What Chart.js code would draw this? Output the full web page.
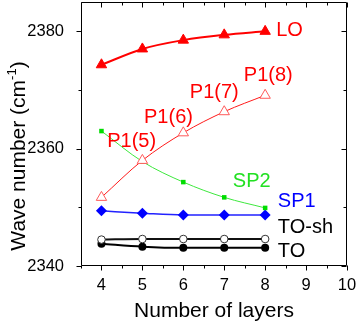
<!DOCTYPE html>
<html><head><meta charset="utf-8">
<script src="https://cdn.jsdelivr.net/npm/chart.js@4/dist/chart.umd.min.js"></script>
<style>html,body{margin:0;padding:0;background:#fff;overflow:hidden;}</style>
</head><body>
<canvas id="c" width="357" height="327"></canvas>
<script>
// ---- data ----
const layers = [4, 5, 6, 7, 8];
const LO   = [2374.3, 2377.0, 2378.5, 2379.4, 2380.0];
const P1   = [2351.7, 2358.0, 2362.7, 2366.3, 2369.1];
const SP2  = [2363.0, 2357.8, 2354.3, 2351.7, 2349.9];
const SP1  = [2349.4, 2349.0, 2348.7, 2348.7, 2348.7];
const TOsh = [2344.5, 2344.6, 2344.6, 2344.6, 2344.6];
const TO   = [2343.8, 2343.3, 2343.1, 2343.1, 2343.1];
const xTicks = [4, 5, 6, 7, 8, 9, 10];
const yTicks = [2340, 2360, 2380];
const xMinor = [3.5, 4.5, 5.5, 6.5, 7.5, 8.5, 9.5];
const yMinor = [2350, 2370];
const xTitle = 'Number of layers';
const yTitleMain = 'Wave number (cm';
const yTitleSup = '-1';
const yTitleEnd = ')';

const FAM = '"Liberation Sans", Arial, Helvetica, sans-serif';
const pts = arr => layers.map((x, i) => ({x: x, y: arr[i]}));

// text labels placed in data coordinates
const notes = [
  {text: 'LO',    x: 8.27, y: 2380.2, color: '#ff0000'},
  {text: 'P1(8)', x: 7.48, y: 2372.4, color: '#ff0000'},
  {text: 'P1(7)', x: 6.16, y: 2369.5, color: '#ff0000'},
  {text: 'P1(6)', x: 5.04, y: 2365.4, color: '#ff0000'},
  {text: 'P1(5)', x: 4.14, y: 2361.2, color: '#ff0000'},
  {text: 'SP2',   x: 7.21, y: 2354.4, color: '#22e022'},
  {text: 'SP1',   x: 8.31, y: 2351.0, color: '#0000ff'},
  {text: 'TO-sh', x: 8.31, y: 2346.5, color: '#000000'},
  {text: 'TO',    x: 8.31, y: 2342.4, color: '#000000'}
];

const framePlugin = {
  id: 'frame',
  afterDraw(chart) {
    const {ctx, chartArea: a, scales: {x, y}} = chart;
    ctx.save();
    ctx.strokeStyle = '#000';
    ctx.lineWidth = 1;
    const L = Math.round(a.left) + 0.5, R = Math.round(a.right) - 0.5;
    const T = Math.round(a.top) + 0.5, B = Math.round(a.bottom) - 0.5;
    ctx.beginPath();
    ctx.rect(L, T, R - L, B - T);
    const tx = (v, len) => {
      const p = Math.round(x.getPixelForValue(v)) + 0.5;
      ctx.moveTo(p, B); ctx.lineTo(p, B + len);
      ctx.moveTo(p, T); ctx.lineTo(p, T + len);
    };
    xTicks.forEach(v => tx(v, 5));
    xMinor.forEach(v => tx(v, 3));
    const ty = (v, len) => {
      const p = Math.round(y.getPixelForValue(v)) + 0.5;
      ctx.moveTo(L, p); ctx.lineTo(L - len, p);
      ctx.moveTo(R, p); ctx.lineTo(R - len, p);
    };
    yTicks.forEach(v => ty(v, 5));
    yMinor.forEach(v => ty(v, 3));
    ctx.stroke();

    ctx.font = '20px ' + FAM;
    ctx.textAlign = 'left';
    ctx.textBaseline = 'middle';
    notes.forEach(n => {
      ctx.fillStyle = n.color;
      ctx.fillText(n.text, x.getPixelForValue(n.x), y.getPixelForValue(n.y));
    });

    ctx.fillStyle = '#000';
    ctx.translate(17, 156);
    ctx.rotate(-Math.PI / 2);
    const fMain = '21px ' + FAM, fSup = '13px ' + FAM;
    ctx.font = fMain; const w1 = ctx.measureText(yTitleMain).width; const w3 = ctx.measureText(yTitleEnd).width;
    ctx.font = fSup; const w2 = ctx.measureText(yTitleSup).width;
    let s = -(w1 + w2 + w3) / 2;
    ctx.textBaseline = 'alphabetic';
    ctx.font = fMain; ctx.fillText(yTitleMain, s, 7.5); s += w1;
    ctx.font = fSup; ctx.fillText(yTitleSup, s, -1); s += w2;
    ctx.font = fMain; ctx.fillText(yTitleEnd, s, 7.5);
    ctx.restore();
  }
};

new Chart(document.getElementById('c'), {
  type: 'line',
  data: {
    datasets: [
      {label: 'LO', data: pts(LO), borderColor: '#ff0000', backgroundColor: '#ff0000', borderWidth: 2,
       pointStyle: 'triangle', pointRadius: 6, pointBorderWidth: 1},
      {label: 'P1', data: pts(P1), borderColor: '#ff1a1a', backgroundColor: '#ffffff', borderWidth: 1,
       pointStyle: 'triangle', pointRadius: 6, pointBorderWidth: 1, pointBorderColor: '#ff5a5a'},
      {label: 'SP2', data: pts(SP2), borderColor: '#3ee83e', backgroundColor: '#00dd00', borderWidth: 1,
       pointStyle: 'rect', pointRadius: 3.2, pointBorderWidth: 0},
      {label: 'SP1', data: pts(SP1), borderColor: '#2222ff', backgroundColor: '#0000ff', borderWidth: 1.5,
       pointStyle: 'rectRot', pointRadius: 5.5, pointBorderWidth: 0},
      {label: 'TO-sh', data: pts(TOsh), borderColor: '#111111', backgroundColor: '#ffffff', borderWidth: 2,
       pointStyle: 'circle', pointRadius: 3.8, pointBorderWidth: 1, pointBorderColor: '#333333'},
      {label: 'TO', data: pts(TO), borderColor: '#000000', backgroundColor: '#000000', borderWidth: 2,
       pointStyle: 'circle', pointRadius: 4, pointBorderWidth: 0}
    ]
  },
  options: {
    responsive: false,
    animation: false,
    devicePixelRatio: 1,
    layout: {autoPadding: false, padding: {top: 2, right: 10, left: 0, bottom: 0}},
    plugins: {legend: {display: false}, tooltip: {enabled: false}},
    elements: {line: {tension: 0.25, cubicInterpolationMode: 'monotone'}},
    scales: {
      x: {
        type: 'linear', min: 3.5, max: 10,
        afterBuildTicks: s => { s.ticks = xTicks.map(v => ({value: v})); },
        afterFit: s => { s.height = 61; s.paddingLeft = 0; s.paddingRight = 0; },
        grid: {display: false}, border: {display: false},
        ticks: {font: {size: 16.5, family: FAM}, color: '#000', padding: 2, maxRotation: 0, autoSkip: false,
                callback: v => String(v)},
        title: {display: true, text: xTitle, color: '#000', font: {size: 21, family: FAM},
                padding: {top: 0, bottom: 3}}
      },
      y: {
        type: 'linear', min: 2340, max: 2385,
        afterBuildTicks: s => { s.ticks = yTicks.map(v => ({value: v})); },
        afterFit: s => { s.width = 81; s.paddingTop = 0; s.paddingBottom = 0; },
        grid: {display: false}, border: {display: false},
        ticks: {font: {size: 16.5, family: FAM}, color: '#000', padding: 9, autoSkip: false,
                callback: v => String(v)}
      }
    }
  },
  plugins: [framePlugin]
});
</script>
</body></html>
